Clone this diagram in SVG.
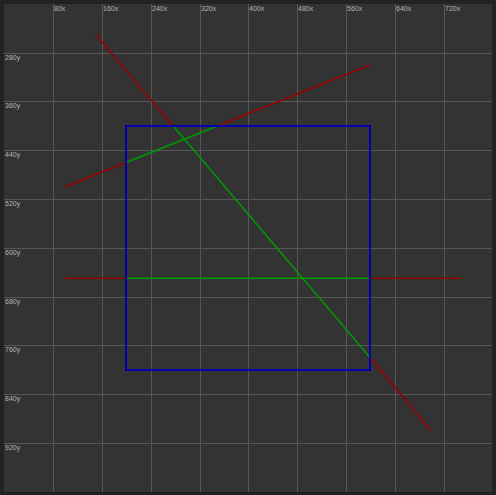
<svg xmlns="http://www.w3.org/2000/svg" width="496" height="495" viewBox="0 0 496 495">
<style>
.grid line{stroke:#575757;stroke-width:1}
.lbl{font-family:"Liberation Sans",Arial,sans-serif;font-size:7px;fill:#b4b4b4}
.red{stroke:#990000;stroke-width:1.5;fill:none}
.green{stroke:#009a00;stroke-width:1.5;fill:none}
.box{stroke:#0000b0;stroke-width:2;fill:none}
</style>
<rect x="0" y="0" width="496" height="495" fill="#222222"/>
<rect x="4" y="4" width="488" height="488" fill="#333333"/>
<g class="grid">
<line x1="53.5" y1="4" x2="53.5" y2="492"/>
<line x1="102.5" y1="4" x2="102.5" y2="492"/>
<line x1="151.5" y1="4" x2="151.5" y2="492"/>
<line x1="200.5" y1="4" x2="200.5" y2="492"/>
<line x1="248.5" y1="4" x2="248.5" y2="492"/>
<line x1="297.5" y1="4" x2="297.5" y2="492"/>
<line x1="346.5" y1="4" x2="346.5" y2="492"/>
<line x1="395.5" y1="4" x2="395.5" y2="492"/>
<line x1="444.5" y1="4" x2="444.5" y2="492"/>
<line x1="4" y1="53.5" x2="492" y2="53.5"/>
<line x1="4" y1="101.5" x2="492" y2="101.5"/>
<line x1="4" y1="150.5" x2="492" y2="150.5"/>
<line x1="4" y1="199.5" x2="492" y2="199.5"/>
<line x1="4" y1="248.5" x2="492" y2="248.5"/>
<line x1="4" y1="297.5" x2="492" y2="297.5"/>
<line x1="4" y1="345.5" x2="492" y2="345.5"/>
<line x1="4" y1="394.5" x2="492" y2="394.5"/>
<line x1="4" y1="443.5" x2="492" y2="443.5"/>
</g>
<g class="lbl">
<text x="54" y="11">80x</text>
<text x="103" y="11">160x</text>
<text x="152" y="11">240x</text>
<text x="201" y="11">320x</text>
<text x="249" y="11">400x</text>
<text x="298" y="11">480x</text>
<text x="347" y="11">560x</text>
<text x="396" y="11">640x</text>
<text x="445" y="11">720x</text>
<text x="5" y="60">280y</text>
<text x="5" y="108">360y</text>
<text x="5" y="157">440y</text>
<text x="5" y="206">520y</text>
<text x="5" y="255">600y</text>
<text x="5" y="304">680y</text>
<text x="5" y="352">760y</text>
<text x="5" y="401">840y</text>
<text x="5" y="450">920y</text>
</g>
<g id="connectors">
<polyline class="red" points="96,35 173.3,126"/>
<polyline class="green" points="173.3,126 370,357.5"/>
<polyline class="red" points="370,357.5 431,430.7"/>
<polyline class="red" points="65.3,186.7 126,162.5"/>
<polyline class="green" points="126,162.5 217.3,126"/>
<polyline class="red" points="217.3,126 370,65"/>
<polyline class="red" points="65,278.3 126,278.3"/>
<polyline class="green" points="126,278.3 370,278.3"/>
<polyline class="red" points="370,278.3 461,278.3"/>
</g>
<g id="box">
<rect class="box" x="126" y="126" width="244" height="244"/>
</g>
</svg>
